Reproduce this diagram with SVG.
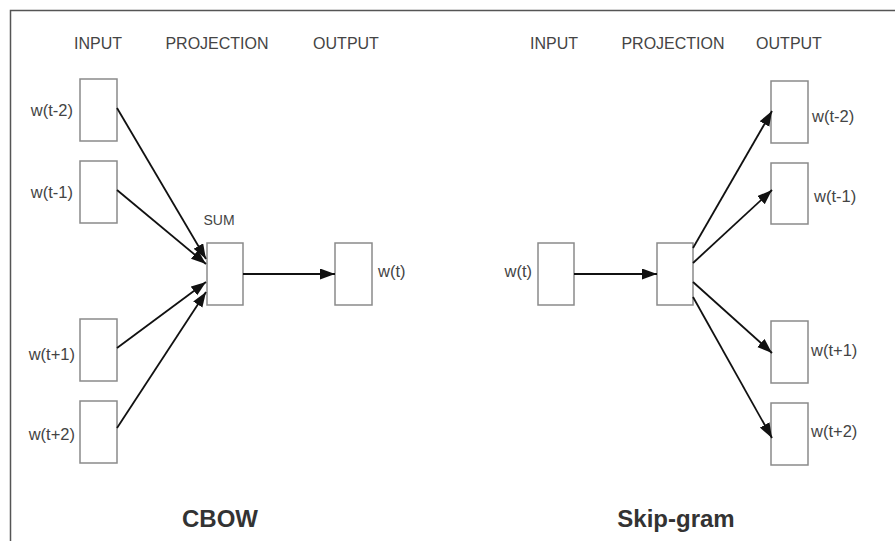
<svg xmlns="http://www.w3.org/2000/svg" width="895" height="541" viewBox="0 0 895 541">
<style>
.box{fill:#fff;stroke:#8a8a8a;stroke-width:1.5}
.lbl{font-family:"Liberation Sans",Arial,sans-serif;font-size:16.5px;fill:#444}
.hdr{font-family:"Liberation Sans",Arial,sans-serif;font-size:16px;fill:#444}
.ttl{font-family:"Liberation Sans",Arial,sans-serif;font-size:24px;font-weight:bold;fill:#333}
.arr{stroke:#111;stroke-width:1.8;fill:none;marker-end:url(#ah)}
</style>
<defs>
<marker id="ah" markerUnits="userSpaceOnUse" markerWidth="16" markerHeight="12" refX="15" refY="5.5" orient="auto">
<path d="M0,0 L15,5.5 L0,11 Z" fill="#111"/>
</marker>
</defs>
<rect x="0" y="0" width="895" height="541" fill="#fff"/>
<path d="M10.5,541 V10.5 H895" fill="none" stroke="#555" stroke-width="1.5"/>
<g id="headers">
<text class="hdr" x="98" y="49" text-anchor="middle">INPUT</text>
<text class="hdr" x="217" y="49" text-anchor="middle">PROJECTION</text>
<text class="hdr" x="346" y="49" text-anchor="middle">OUTPUT</text>
<text class="hdr" x="554" y="49" text-anchor="middle">INPUT</text>
<text class="hdr" x="673" y="49" text-anchor="middle">PROJECTION</text>
<text class="hdr" x="789" y="49" text-anchor="middle">OUTPUT</text>
</g>
<g id="cbow-in-t-2"><rect class="box" x="80" y="79" width="37" height="62"/><text class="lbl" x="73" y="116" text-anchor="end">w(t-2)</text></g>
<g id="cbow-in-t-1"><rect class="box" x="80" y="161" width="37" height="62"/><text class="lbl" x="73" y="198" text-anchor="end">w(t-1)</text></g>
<g id="cbow-in-t1"><rect class="box" x="80" y="319" width="37" height="62"/><text class="lbl" x="75" y="360" text-anchor="end">w(t+1)</text></g>
<g id="cbow-in-t2"><rect class="box" x="80" y="401" width="37" height="62"/><text class="lbl" x="75" y="440" text-anchor="end">w(t+2)</text></g>
<g id="cbow-sum"><rect class="box" x="207" y="243" width="36" height="62"/><text class="lbl" x="219" y="225" text-anchor="middle" style="font-size:14px">SUM</text></g>
<g id="cbow-out"><rect class="box" x="335" y="243" width="37" height="62"/><text class="lbl" x="378" y="277">w(t)</text></g>
<g id="sg-in"><rect class="box" x="538" y="243" width="36" height="62"/><text class="lbl" x="532" y="277" text-anchor="end">w(t)</text></g>
<g id="sg-proj"><rect class="box" x="657" y="243" width="36" height="62"/></g>
<g id="sg-out-t-2"><rect class="box" x="771" y="81" width="37" height="62"/><text class="lbl" x="812" y="122">w(t-2)</text></g>
<g id="sg-out-t-1"><rect class="box" x="771" y="163" width="37" height="61"/><text class="lbl" x="814" y="202">w(t-1)</text></g>
<g id="sg-out-t1"><rect class="box" x="771" y="321" width="37" height="62"/><text class="lbl" x="811" y="356">w(t+1)</text></g>
<g id="sg-out-t2"><rect class="box" x="771" y="403" width="37" height="62"/><text class="lbl" x="811" y="437">w(t+2)</text></g>
<g id="connectors">
<line class="arr" x1="117" y1="108" x2="206" y2="259"/>
<line class="arr" x1="117" y1="190" x2="206" y2="264"/>
<line class="arr" x1="117" y1="348" x2="206" y2="282"/>
<line class="arr" x1="117" y1="428" x2="206" y2="292"/>
<line class="arr" x1="243" y1="274" x2="335" y2="274"/>
<line class="arr" x1="574" y1="274" x2="657" y2="274"/>
<line class="arr" x1="693" y1="248" x2="772" y2="111"/>
<line class="arr" x1="693" y1="263" x2="772" y2="190"/>
<line class="arr" x1="693" y1="282" x2="772" y2="353"/>
<line class="arr" x1="693" y1="297" x2="772" y2="438"/>
</g>
<g id="titles">
<text class="ttl" x="220" y="527" text-anchor="middle">CBOW</text>
<text class="ttl" x="676" y="527" text-anchor="middle">Skip-gram</text>
</g>
</svg>
